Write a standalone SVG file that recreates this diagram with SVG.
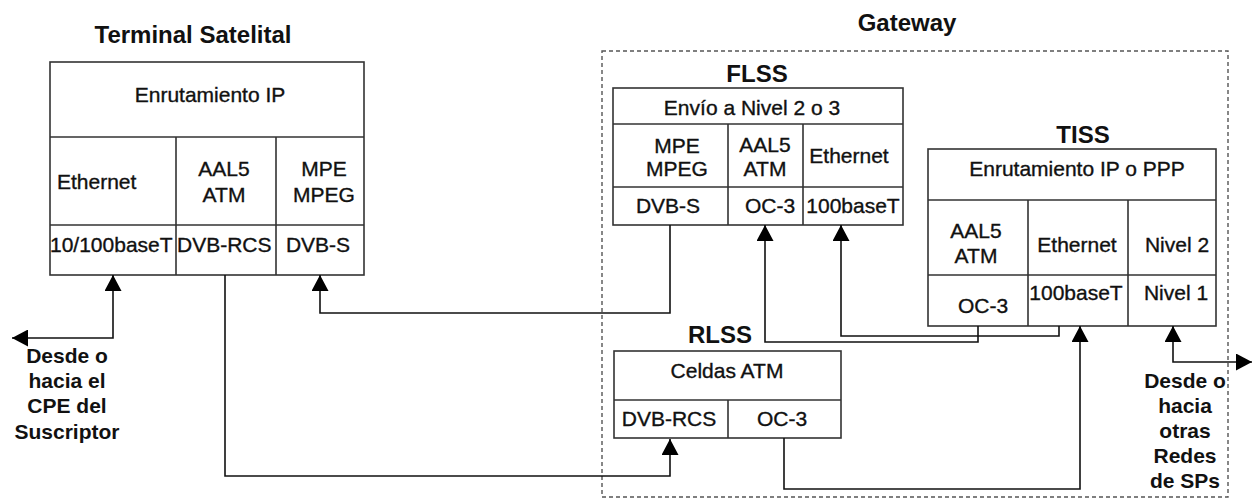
<svg xmlns="http://www.w3.org/2000/svg" width="1252" height="498" viewBox="0 0 1252 498">
<style>
.box{fill:#fff;stroke:#333;stroke-width:1.6}
.ln{stroke:#333;stroke-width:1.6;fill:none}
.c{stroke:#111;stroke-width:1.6;fill:none;marker-end:url(#ah)}
.t{font-family:"Liberation Sans",Arial,sans-serif;font-size:21px;fill:#111;stroke:#111;stroke-width:0.35;text-anchor:middle}
.s{text-anchor:start}
.h{font-family:"Liberation Sans",Arial,sans-serif;font-size:24px;font-weight:bold;fill:#111;text-anchor:middle}
.l{font-family:"Liberation Sans",Arial,sans-serif;font-size:21px;font-weight:bold;fill:#111;text-anchor:middle}
</style>
<defs>
<marker id="ah" markerUnits="userSpaceOnUse" markerWidth="17" markerHeight="17" refX="16" refY="8.5" orient="auto-start-reverse">
<path d="M0,0 L16,8.5 L0,17 z" fill="#000"/>
</marker>
</defs>
<rect width="1252" height="498" fill="#fff"/>
<g id="gateway">
<rect x="602" y="51" width="626" height="446" fill="none" stroke="#555" stroke-width="1.4" stroke-dasharray="4 3"/>
<text class="h" x="907" y="31">Gateway</text>
</g>
<g id="terminal">
<text class="h" x="193" y="43">Terminal Satelital</text>
<rect class="box" x="50" y="62" width="314" height="213"/>
<path class="ln" d="M50,137H364M50,225H364M176,137V275M276,137V275"/>
<text class="t" x="210" y="102">Enrutamiento IP</text>
<text class="t s" x="57" y="189">Ethernet</text>
<text class="t" x="224" y="176">AAL5</text>
<text class="t" x="224" y="202">ATM</text>
<text class="t" x="324" y="176">MPE</text>
<text class="t" x="324" y="202">MPEG</text>
<text class="t s" x="50" y="252">10/100baseT</text>
<text class="t s" x="177" y="252">DVB-RCS</text>
<text class="t" x="318" y="252">DVB-S</text>
</g>
<g id="flss">
<text class="h" x="757" y="82">FLSS</text>
<rect class="box" x="613" y="88" width="290" height="137"/>
<path class="ln" d="M613,124H903M613,187H903M728,124V225M803,124V225"/>
<text class="t" x="752" y="115">Envío a Nivel 2 o 3</text>
<text class="t" x="677" y="153">MPE</text>
<text class="t" x="677" y="176">MPEG</text>
<text class="t" x="765" y="152">AAL5</text>
<text class="t" x="765" y="176">ATM</text>
<text class="t" x="849" y="163">Ethernet</text>
<text class="t" x="668" y="213">DVB-S</text>
<text class="t" x="770" y="213">OC-3</text>
<text class="t" x="853" y="213">100baseT</text>
</g>
<g id="tiss">
<text class="h" x="1083" y="143">TISS</text>
<rect class="box" x="928" y="149" width="288" height="177"/>
<path class="ln" d="M928,200H1216M928,275H1216M1028,200V326M1128,200V326"/>
<text class="t" x="1077" y="176">Enrutamiento IP o PPP</text>
<text class="t" x="976" y="238">AAL5</text>
<text class="t" x="976" y="263">ATM</text>
<text class="t" x="1077" y="252">Ethernet</text>
<text class="t" x="1177" y="252">Nivel 2</text>
<text class="t" x="983" y="313">OC-3</text>
<text class="t" x="1076" y="300">100baseT</text>
<text class="t" x="1176" y="300">Nivel 1</text>
</g>
<g id="rlss">
<text class="h" x="720" y="343">RLSS</text>
<rect class="box" x="614" y="351" width="227" height="87"/>
<path class="ln" d="M614,400H841M728,400V438"/>
<text class="t" x="727" y="378">Celdas ATM</text>
<text class="t" x="669" y="426">DVB-RCS</text>
<text class="t" x="782" y="426">OC-3</text>
</g>
<g id="cpe-label">
<text class="l" x="67" y="363">Desde o</text>
<text class="l" x="67" y="388">hacia el</text>
<text class="l" x="67" y="413">CPE del</text>
<text class="l" x="67" y="439">Suscriptor</text>
</g>
<g id="sp-label">
<text class="l" x="1185" y="388">Desde o</text>
<text class="l" x="1185" y="413">hacia</text>
<text class="l" x="1185" y="438">otras</text>
<text class="l" x="1185" y="463">Redes</text>
<text class="l" x="1185" y="488">de SPs</text>
</g>
<g id="connectors">
<path class="c" style="marker-start:url(#ah)" d="M12,338H113V275"/>
<path class="c" d="M225,275V476H670V439"/>
<path class="c" d="M670,225V313H320V275"/>
<path class="c" d="M978,326V342H765V225"/>
<path class="c" d="M1059,326V336H841V225"/>
<path class="c" d="M784,438V489H1080V326"/>
<path class="c" style="marker-start:url(#ah)" d="M1252,362H1173V326"/>
</g>
</svg>
